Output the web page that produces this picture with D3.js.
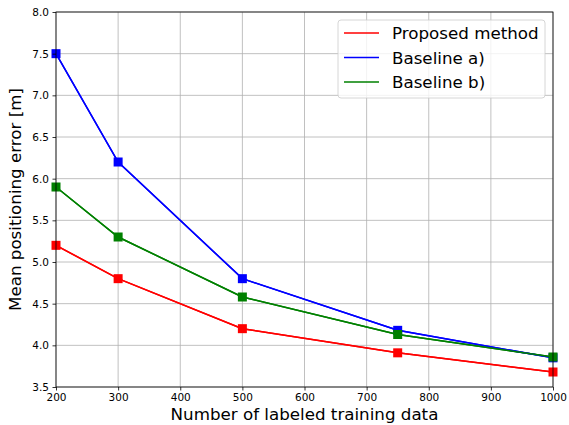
<!DOCTYPE html>
<html>
<head>
<meta charset="utf-8">
<script src="https://cdn.jsdelivr.net/npm/d3@7"></script>
<style>
  html, body { margin: 0; padding: 0; background: #fff; }
  svg { display: block; font-family: "DejaVu Sans", sans-serif; }
</style>
</head>
<body>
<svg id="chart" width="569" height="425"></svg>
<script>
// Training-set sizes on the x axis
const trainingSizes = [200, 300, 500, 750, 1000];

// Mean positioning error [m] per method
const proposedMethod = [5.2, 4.8, 4.2, 3.91, 3.68];
const baselineA = [7.5, 6.2, 4.8, 4.18, 3.85];
const baselineB = [5.9, 5.3, 4.58, 4.13, 3.86];

const seriesNames = ["Proposed method", "Baseline a)", "Baseline b)"];
const seriesColors = ["#ff0000", "#0000ff", "#008000"];

const xTicks = [200, 300, 400, 500, 600, 700, 800, 900, 1000];
const yTicks = [3.5, 4.0, 4.5, 5.0, 5.5, 6.0, 6.5, 7.0, 7.5, 8.0];

const series = [proposedMethod, baselineA, baselineB].map((vals, i) => ({
  name: seriesNames[i],
  color: seriesColors[i],
  points: vals.map((v, j) => ({ x: trainingSizes[j], y: v }))
}));

const svg = d3.select("#chart");
const margin = { left: 56, right: 16, top: 12, bottom: 38 };
const W = 569, H = 425;

const x = d3.scaleLinear().domain([200, 1000]).range([margin.left, W - margin.right]);
const y = d3.scaleLinear().domain([3.5, 8.0]).range([H - margin.bottom, margin.top]);

// Grid
const grid = svg.append("g");
grid.selectAll(".gx").data(xTicks).join("line")
  .attr("x1", d => x(d)).attr("x2", d => x(d))
  .attr("y1", y(3.5)).attr("y2", y(8.0))
  .attr("stroke", "#b0b0b0").attr("stroke-width", 0.8);
grid.selectAll(".gy").data(yTicks).join("line")
  .attr("x1", x(200)).attr("x2", x(1000))
  .attr("y1", d => y(d)).attr("y2", d => y(d))
  .attr("stroke", "#b0b0b0").attr("stroke-width", 0.8);

// Lines and square markers
const line = d3.line().x(d => x(d.x)).y(d => y(d.y));
const plot = svg.append("g");
series.forEach(s => {
  plot.append("path")
    .attr("d", line(s.points))
    .attr("fill", "none")
    .attr("stroke", s.color)
    .attr("stroke-width", 1.5);
});
series.forEach(s => {
  plot.selectAll(null).data(s.points).join("rect")
    .attr("x", d => x(d.x) - 4.5)
    .attr("y", d => y(d.y) - 4.5)
    .attr("width", 9).attr("height", 9)
    .attr("fill", s.color);
  plot.append("path")
    .attr("d", line(s.points))
    .attr("fill", "none")
    .attr("stroke", s.color)
    .attr("stroke-width", 1.5);
});

// Axes
const xAxis = d3.axisBottom(x).tickValues(xTicks).tickFormat(d3.format("d")).tickSizeOuter(0).tickSize(3.5).tickPadding(3.5);
const yAxis = d3.axisLeft(y).tickValues(yTicks).tickFormat(d3.format(".1f")).tickSizeOuter(0).tickSize(3.5).tickPadding(3.5);

const gx = svg.append("g").attr("transform", `translate(0,${y(3.5)})`).call(xAxis);
const gy = svg.append("g").attr("transform", `translate(${x(200)},0)`).call(yAxis);
[gx, gy].forEach(g => {
  g.select(".domain").remove();
  g.selectAll("text").attr("font-size", 10.5).attr("fill", "#000").attr("font-family", "DejaVu Sans, sans-serif");
  g.selectAll("line").attr("stroke", "#000").attr("stroke-width", 0.8);
});

// Frame
svg.append("rect")
  .attr("x", x(200)).attr("y", y(8.0))
  .attr("width", x(1000) - x(200)).attr("height", y(3.5) - y(8.0))
  .attr("fill", "none").attr("stroke", "#000").attr("stroke-width", 0.8);

// Axis titles
svg.append("text")
  .attr("x", (x(200) + x(1000)) / 2).attr("y", 420)
  .attr("text-anchor", "middle").attr("font-size", 16.7)
  .text("Number of labeled training data");
svg.append("text")
  .attr("transform", `translate(21,${(y(3.5) + y(8.0)) / 2}) rotate(-90)`)
  .attr("text-anchor", "middle").attr("font-size", 16.7)
  .text("Mean positioning error [m]");

// Legend
const legend = svg.append("g");
legend.append("rect")
  .attr("x", 338).attr("y", 20).attr("width", 207).attr("height", 78)
  .attr("rx", 3).attr("fill", "#fff").attr("fill-opacity", 0.8)
  .attr("stroke", "#cccccc").attr("stroke-width", 0.8);
series.forEach((s, i) => {
  const cy = 33 + i * 24.5;
  legend.append("line")
    .attr("x1", 344).attr("x2", 379).attr("y1", cy).attr("y2", cy)
    .attr("stroke", s.color).attr("stroke-width", 1.5);
  legend.append("text")
    .attr("x", 392).attr("y", cy).attr("dy", "0.36em")
    .attr("font-size", 16.7).text(s.name);
});
</script>
</body>
</html>
